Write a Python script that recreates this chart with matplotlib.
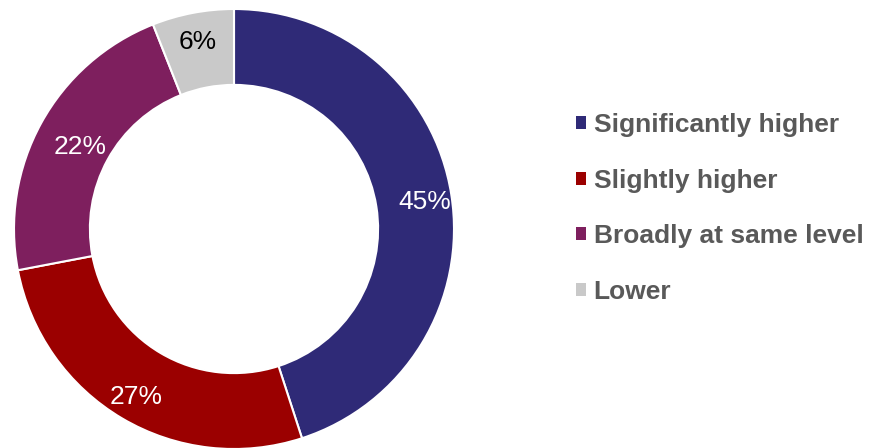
import numpy as np
import matplotlib.pyplot as plt
from matplotlib.transforms import offset_copy

plt.rcParams['font.family'] = ['Liberation Sans', 'DejaVu Sans']

categories = ["Significantly higher", "Slightly higher", "Broadly at same level", "Lower"]
shares = [45, 27, 22, 6]
colors = ["#2F2A77", "#9B0000", "#7E1F5E", "#C9C9C9"]
label_colors = ["white", "white", "white", "black"]
# how far out (fraction of radius) each percentage sits
label_dist = [0.88, 0.87, 0.80, 0.88]

W, H = 871, 448
fig = plt.figure(figsize=(W / 100, H / 100), dpi=100)

# donut centred at (234, 229) px with 220 px outer radius
cx, cy, r = 234, 229, 220
ax = fig.add_axes([(cx - r) / W, (H - cy - r) / H, 2 * r / W, 2 * r / H])

wedges, _ = ax.pie(
    shares,
    colors=colors,
    startangle=90,
    counterclock=False,
    radius=1.0,
    wedgeprops=dict(width=0.345, edgecolor="white", linewidth=1.5),
)

# nudge labels down a touch so the digits sit visually centred
trans = offset_copy(ax.transData, fig=fig, y=-3, units="dots")
for w, v, c, d in zip(wedges, shares, label_colors, label_dist):
    mid = np.deg2rad((w.theta1 + w.theta2) / 2)
    ax.text(d * np.cos(mid), d * np.sin(mid), f"{v}%", color=c,
            fontsize=19, ha="center", va="center", transform=trans)

ax.set_xlim(-1, 1)
ax.set_ylim(-1, 1)
ax.set_aspect("equal")

leg = fig.legend(
    wedges, categories,
    loc="center left",
    bbox_to_anchor=(552 / W, 1 - 208.5 / H),
    frameon=False,
    handlelength=0.38,
    handleheight=0.38,
    handletextpad=0.3,
    labelspacing=1.2,
    prop=dict(weight="bold", size=19),
    labelcolor="#595959",
)
for h in leg.legend_handles:
    h.set_edgecolor("none")

fig.savefig("out.png", dpi=100)
